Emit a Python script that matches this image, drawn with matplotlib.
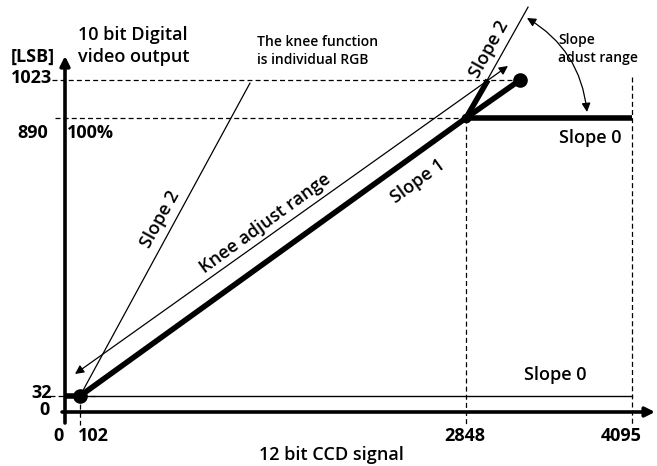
import numpy as np
import matplotlib
matplotlib.use("Agg")
import matplotlib.pyplot as plt
from matplotlib import transforms as mtransforms

# --- values ---
X_TICKS = [0, 102, 2848, 4095]          # 12 bit CCD signal
Y_TICKS = [0, 32, 890, 1023]            # 10 bit output [LSB]

# transfer curve: clamp at black, slope 1 up to the knee, then on to 1023
SLOPE1_X = [0, 102, 2848, 3254]
SLOPE1_Y = [32, 32, 890, 1023]
SLOPE0_X = [2848, 4095]
SLOPE0_Y = [890, 890]
SLOPE2_X = [2848, 3013]
SLOPE2_Y = [890, 1023]

# thin guide lines
GUIDE2_KNEE_X = [2848, 3314]
GUIDE2_KNEE_Y = [890, 1278]
GUIDE2_LOW_X = [102, 1311]
GUIDE2_LOW_Y = [32, 1012]
GUIDE0_LOW_X = [102, 4095]
GUIDE0_LOW_Y = [32, 32]

KNEE_RANGE = [(68, 100), (3163, 1072)]
SLOPE_RANGE = [(3306, 1240), (3757, 911)]

W, H = 657, 466
# where the tick values sit on the drawing (the sketch is not to scale)
X_PX = [65, 80, 466, 632]
Y_PX = [54, 70, 348, 386]   # from bottom


def make_map(src, dst):
    src = np.asarray(src, float)
    dst = np.asarray(dst, float)
    lo = (dst[1] - dst[0]) / (src[1] - src[0])
    hi = (dst[-1] - dst[-2]) / (src[-1] - src[-2])

    def f(v):
        v = np.asarray(v, float)
        out = np.interp(v, src, dst)
        out = np.where(v < src[0], dst[0] + (v - src[0]) * lo, out)
        out = np.where(v > src[-1], dst[-1] + (v - src[-1]) * hi, out)
        return out
    return f


xf, xi = make_map(X_TICKS, X_PX), make_map(X_PX, X_TICKS)
yf, yi = make_map(Y_TICKS, Y_PX), make_map(Y_PX, Y_TICKS)

plt.rcParams["font.family"] = ["Open Sans", "DejaVu Sans"]

fig = plt.figure(figsize=(W / 100, H / 100), dpi=100)
ax = fig.add_axes([0, 0, 1, 1])
ax.set_xscale("function", functions=(xf, xi))
ax.set_yscale("function", functions=(yf, yi))
ax.set_xlim(float(xi(0)), float(xi(W)))
ax.set_ylim(float(yi(0)), float(yi(H)))
ax.axis("off")

px = mtransforms.Affine2D().scale(1, -1).translate(0, H)  # top-left pixel coords

K = "black"
dash = dict(color=K, lw=0.9, ls=(0, (4, 2.5)))

# axes with arrows
ax.annotate("", xy=(4268, 0), xytext=(-20, 0),
            arrowprops=dict(arrowstyle="-|>", lw=2.6, color=K, mutation_scale=14,
                            shrinkA=0, shrinkB=0))
ax.annotate("", xy=(0, 1107), xytext=(0, -22),
            arrowprops=dict(arrowstyle="-|>", lw=2.6, color=K, mutation_scale=14,
                            shrinkA=0, shrinkB=0))

# dashed reference lines
ax.plot([-88, SLOPE1_X[-1]], [1023, 1023], **dash)
ax.plot([-68, 2848], [890, 890], **dash)
ax.plot([-102, 209], [32, 32], **dash)
ax.plot([102, 102], [32, -26], **dash)
ax.plot([2848, 2848], [890, -26], **dash)
ax.plot([4095, 4095], [1033, -26], **dash)

# thin guides
ax.plot(GUIDE0_LOW_X, GUIDE0_LOW_Y, color=K, lw=1.0)
ax.plot(GUIDE2_LOW_X, GUIDE2_LOW_Y, color=K, lw=0.9)
ax.plot(GUIDE2_KNEE_X, GUIDE2_KNEE_Y, color=K, lw=0.9)

# range arrows
ax.annotate("", xy=KNEE_RANGE[1], xytext=KNEE_RANGE[0],
            arrowprops=dict(arrowstyle="<|-|>", lw=0.9, color=K, mutation_scale=13,
                            shrinkA=0, shrinkB=0))
ax.annotate("", xy=SLOPE_RANGE[1], xytext=SLOPE_RANGE[0],
            arrowprops=dict(arrowstyle="<|-|>", lw=0.9, color=K, mutation_scale=13,
                            shrinkA=0, shrinkB=0, connectionstyle="arc3,rad=-0.25"))

# thick transfer curve
thick = dict(color=K, lw=4.0, solid_capstyle="butt", solid_joinstyle="round", zorder=5)
ax.plot(SLOPE1_X, SLOPE1_Y, **thick)
ax.plot(SLOPE0_X, SLOPE0_Y, **thick)
ax.plot(SLOPE2_X, SLOPE2_Y, **thick)
ax.plot([SLOPE1_X[1], SLOPE1_X[-1]], [SLOPE1_Y[1], SLOPE1_Y[-1]], "o", color=K, ms=9.5, zorder=6)
ax.plot([SLOPE1_X[2]], [SLOPE1_Y[2]], "o", color=K, ms=6, zorder=6)


def txt(x, y, s, **kw):
    kw.setdefault("fontsize", 13)
    kw.setdefault("color", K)
    kw.setdefault("fontweight", "semibold")
    ax.text(x, y, s, transform=px, **kw)


# tick labels
txt(52, 83, str(Y_TICKS[3]), ha="right", va="baseline", fontweight="bold")
txt(48, 138, str(Y_TICKS[2]), ha="right", va="baseline", fontweight="bold")
txt(52, 398, str(Y_TICKS[1]), ha="right", va="baseline", fontweight="bold")
txt(50, 415, str(Y_TICKS[0]), ha="right", va="baseline", fontweight="bold")
for xc, v in zip([58, 93, 465, 621], X_TICKS):
    txt(xc, 441, str(v), ha="center", va="baseline", fontweight="bold")

txt(67, 138, "100%", ha="left", va="baseline", fontweight="bold")
txt(33, 62, "[LSB]", ha="center", va="baseline", fontweight="bold")
txt(78, 40, "10 bit Digital", ha="left", va="baseline")
txt(78, 62, "video output", ha="left", va="baseline")
txt(331, 460, "12 bit CCD signal", ha="center", va="baseline")

txt(257, 46, "The knee function", ha="left", va="baseline", fontsize=10)
txt(257, 64, "is individual RGB", ha="left", va="baseline", fontsize=10)
txt(558, 44, "Slope", ha="left", va="baseline", fontsize=10)
txt(558, 62, "adust range", ha="left", va="baseline", fontsize=10)

txt(590, 143, "Slope 0", ha="center", va="baseline")
txt(555, 380, "Slope 0", ha="center", va="baseline")

rot = dict(ha="center", va="center", rotation_mode="anchor")
txt(418, 181, "Slope 1", rotation=36, **rot)
txt(265, 224, "Knee adjust range", rotation=36, **rot)
txt(160, 219, "Slope 2", rotation=61, **rot)
txt(489, 49, "Slope 2", rotation=61, **rot)

fig.savefig("out.png", dpi=100)
